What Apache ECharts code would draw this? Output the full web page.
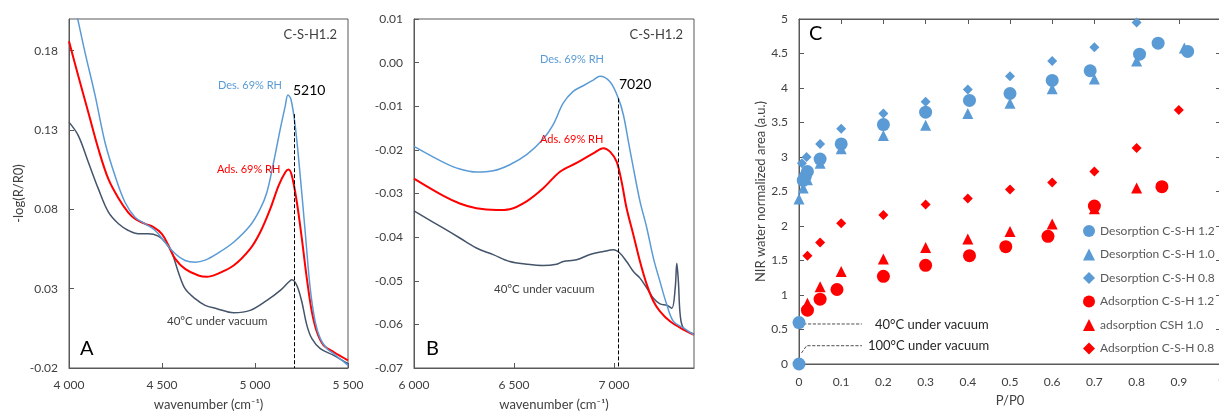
<!DOCTYPE html>
<html><head><meta charset="utf-8">
<script src="https://cdn.jsdelivr.net/npm/echarts@6/dist/echarts.min.js"></script>
<style>html,body{margin:0;padding:0;background:#fff}#c{width:1219px;height:411px}</style>
</head><body><div id="c"></div>
<script>
// ---------- Panel A (4000-5500 cm-1) ----------
const desA = [[4000,0.226],[4047,0.200],[4086,0.179],[4140,0.152],[4194,0.122],[4248,0.101],[4301,0.0845],[4355,0.0751],[4409,0.0709],[4463,0.0667],[4517,0.0593],[4571,0.052],[4624,0.0478],[4678,0.0467],[4732,0.048],[4795,0.052],[4885,0.0593],[4974,0.0698],[5028,0.0803],[5064,0.0908],[5100,0.1097],[5136,0.1307],[5163,0.1454],[5177,0.1521],[5193,0.1496],[5216,0.1328],[5243,0.1013],[5270,0.0656],[5297,0.030],[5324,0.009],[5351,-0.0015],[5387,-0.0078],[5423,-0.011],[5500,-0.0183]];
const adsA = [[4000,0.186],[4050,0.164],[4104,0.141],[4158,0.118],[4212,0.099],[4266,0.087],[4319,0.078],[4360,0.0736],[4409,0.0709],[4454,0.0688],[4499,0.0646],[4535,0.0572],[4571,0.0488],[4624,0.0425],[4696,0.0383],[4741,0.0375],[4795,0.0392],[4885,0.0446],[4974,0.0551],[5028,0.0656],[5082,0.0803],[5127,0.095],[5163,0.1034],[5180,0.1051],[5198,0.1013],[5225,0.0845],[5252,0.0614],[5279,0.0362],[5306,0.0153],[5333,0.0027],[5369,-0.0057],[5423,-0.0099],[5500,-0.0152]];
const vacA = [[4000,0.135],[4050,0.1265],[4104,0.1097],[4158,0.0929],[4212,0.0782],[4266,0.0709],[4319,0.0667],[4373,0.0646],[4426,0.0646],[4480,0.0631],[4517,0.0593],[4552,0.053],[4588,0.0404],[4624,0.030],[4678,0.0237],[4732,0.0195],[4795,0.0174],[4885,0.0148],[4974,0.0163],[5064,0.0226],[5136,0.0289],[5180,0.0341],[5198,0.0356],[5225,0.032],[5252,0.0216],[5279,0.0069],[5306,-0.0015],[5351,-0.0078],[5423,-0.012],[5500,-0.0173]];
const peakA = 5210, peakATop = 0.140;

// ---------- Panel B (6000-7400 cm-1) ----------
const desB = [[6000,-0.0192],[6145,-0.0228],[6229,-0.0244],[6312,-0.0251],[6396,-0.0248],[6479,-0.0234],[6563,-0.0211],[6646,-0.0175],[6696,-0.0142],[6746,-0.0093],[6796,-0.0066],[6846,-0.0053],[6896,-0.004],[6930,-0.0031],[6980,-0.0044],[7022,-0.0082],[7047,-0.012],[7072,-0.0181],[7097,-0.0242],[7130,-0.0318],[7164,-0.0379],[7197,-0.0448],[7230,-0.0502],[7264,-0.0555],[7297,-0.0593],[7347,-0.0608],[7400,-0.0624]];
const adsB = [[6000,-0.0266],[6145,-0.0305],[6229,-0.0323],[6312,-0.0334],[6412,-0.0338],[6479,-0.0336],[6563,-0.0318],[6646,-0.0288],[6730,-0.025],[6813,-0.023],[6896,-0.0208],[6947,-0.0196],[6980,-0.0204],[7013,-0.0227],[7038,-0.0273],[7063,-0.0334],[7097,-0.0395],[7130,-0.0456],[7164,-0.0509],[7197,-0.0547],[7230,-0.057],[7280,-0.0593],[7347,-0.0612],[7400,-0.0624]];
const vacB = [[6000,-0.034],[6145,-0.0379],[6229,-0.0402],[6312,-0.0425],[6396,-0.044],[6479,-0.0456],[6563,-0.0462],[6646,-0.0465],[6713,-0.0462],[6746,-0.0456],[6813,-0.0452],[6880,-0.044],[6947,-0.0433],[6997,-0.0429],[7030,-0.0437],[7063,-0.0456],[7097,-0.0479],[7130,-0.0494],[7164,-0.0517],[7197,-0.054],[7230,-0.0553],[7264,-0.0556],[7289,-0.0563],[7306,-0.0517],[7314,-0.046],[7322,-0.0502],[7331,-0.0578],[7347,-0.0608],[7400,-0.0622]];
const peakB = 7020, peakBTop = -0.0082;

// ---------- Panel C (P/P0) ----------
const desC12 = [[0,0],[0,0.6],[0.01,2.66],[0.015,2.72],[0.02,2.79],[0.05,2.97],[0.1,3.19],[0.2,3.47],[0.3,3.65],[0.404,3.82],[0.5,3.92],[0.6,4.11],[0.69,4.25],[0.807,4.49],[0.851,4.65],[0.921,4.53]];
const desC10 = [[0,2.39],[0.01,2.55],[0.02,2.67],[0.05,2.91],[0.1,3.12],[0.2,3.31],[0.3,3.46],[0.4,3.63],[0.5,3.78],[0.6,3.99],[0.7,4.13],[0.8,4.39],[0.913,4.58]];
const desC08 = [[0.007,2.91],[0.018,3.0],[0.05,3.19],[0.1,3.41],[0.2,3.63],[0.3,3.80],[0.4,3.98],[0.5,4.17],[0.6,4.39],[0.7,4.59],[0.8,4.95]];
const adsC12 = [[0.02,0.78],[0.05,0.94],[0.09,1.08],[0.2,1.27],[0.3,1.43],[0.404,1.57],[0.49,1.70],[0.59,1.85],[0.7,2.29],[0.86,2.57]];
const adsC10 = [[0.02,0.88],[0.05,1.12],[0.1,1.34],[0.2,1.52],[0.3,1.69],[0.4,1.81],[0.5,1.92],[0.6,2.03],[0.7,2.25],[0.8,2.55]];
const adsC08 = [[0.02,1.57],[0.05,1.76],[0.1,2.04],[0.2,2.16],[0.3,2.31],[0.4,2.40],[0.5,2.53],[0.6,2.63],[0.7,2.79],[0.8,3.13],[0.9,3.68]];
const leader40 = [[0.01,0.58],[0.149,0.58]];
const leader100 = [[0.006,0.16],[0.018,0.265],[0.149,0.265]];
const legendNames = ['Desorption C-S-H 1.2','Desorption C-S-H 1.0','Desorption C-S-H 0.8','Adsorption C-S-H 1.2','adsorption CSH 1.0','Adsorption C-S-H 0.8'];

const FONT = 'Lato, "Open Sans", sans-serif';
const BLUE = '#5B9BD5', RED = '#FF0000', DARK = '#44546A', AX = '#595959', TXT = '#404040';

function thou(v){ const s = String(Math.round(v)); return s.length>3 ? s.slice(0,-3)+' '+s.slice(-3) : s; }

function specX(idx, min, max){
  return {gridIndex: idx, type:'value', min, max, interval:500,
    name:'wavenumber (cm⁻¹)', nameLocation:'middle', nameGap:30,
    nameTextStyle:{fontFamily:FONT, fontSize:13, color:TXT},
    axisLine:{show:true, onZero:false, lineStyle:{color:AX}}, axisTick:{show:true, inside:true, length:5, lineStyle:{color:AX}},
    axisLabel:{fontFamily:FONT, fontSize:12, color:TXT, margin:11, formatter:thou, showMaxLabel: max===5500},
    splitLine:{show:false}};
}
function specY(idx, min, max, interval, name){
  return {gridIndex: idx, type:'value', min, max, interval,
    name: name||'', nameLocation:'middle', nameGap:44, nameRotate:90,
    nameTextStyle:{fontFamily:FONT, fontSize:13, color:TXT},
    axisLine:{show:true, onZero:false, lineStyle:{color:AX}}, axisTick:{show:true, inside:true, length:5, lineStyle:{color:AX}},
    axisLabel:{fontFamily:FONT, fontSize:12, color:TXT, margin:11, formatter:v=>v.toFixed(2), showMaxLabel: max===0.01},
    splitLine:{show:false}};
}
function spec(data, color, w, xi){
  return {type:'line', xAxisIndex:xi, yAxisIndex:xi, data, smooth:0.35, symbol:'none', clip:true,
    lineStyle:{color, width:w}, itemStyle:{color}, silent:true, z:3};
}
function dashed(xi, x, top, bottom){
  return {type:'line', xAxisIndex:xi, yAxisIndex:xi, data:[], silent:true,
    markLine:{symbol:'none', silent:true, label:{show:false},
      lineStyle:{type:'dashed', color:'#000', width:1},
      data:[[{coord:[x,top]},{coord:[x,bottom]}]]}};
}
function scat(name, data, symbol, size, color){
  return {type:'scatter', name, data, symbol, symbolSize:size, xAxisIndex:2, yAxisIndex:2, clip:false,
    itemStyle:{color, opacity:1}, z:4};
}
function lead(data){
  return {type:'line', data, xAxisIndex:2, yAxisIndex:2, symbol:'none', silent:true,
    lineStyle:{type:'dashed', color:'#222', width:0.8}, z:2};
}
function txt(x, y, text, size, color, align){
  return {type:'text', x, y, silent:true, z:100,
    style:{text, fill:color, font: size+'px '+FONT, align: align||'left', verticalAlign:'middle'}};
}

const chart = echarts.init(document.getElementById('c'), null, {renderer:'canvas'});
chart.setOption({
  animation:false,
  backgroundColor:'#fff',
  grid:[
    {left:69, top:19, width:279, height:349, show:true, borderColor:AX, borderWidth:1, outerBoundsMode:'none', containLabel:false},
    {left:414, top:19, width:280, height:349, show:true, borderColor:AX, borderWidth:1, outerBoundsMode:'none', containLabel:false},
    {left:799, top:19, width:422, height:345, show:true, borderColor:AX, borderWidth:1, outerBoundsMode:'none', containLabel:false}
  ],
  xAxis:[
    specX(0, 4000, 5500),
    specX(1, 6000, 7400),
    {gridIndex:2, type:'value', min:0, max:1, interval:0.1, name:'P/P0', nameLocation:'middle', nameGap:30,
      nameTextStyle:{fontFamily:FONT, fontSize:13, color:TXT},
      axisLine:{show:true, onZero:false, lineStyle:{color:AX}}, axisTick:{show:false},
      axisLabel:{fontFamily:FONT, fontSize:12, color:TXT, margin:12}, splitLine:{show:false}},
    {gridIndex:2, type:'value', position:'top', min:0, max:1, interval:0.1,
      axisLine:{show:true, onZero:false, lineStyle:{color:AX}}, axisTick:{show:true, inside:true, length:5, lineStyle:{color:AX}},
      axisLabel:{show:false}, splitLine:{show:false}}
  ],
  yAxis:[
    specY(0, -0.02, 0.2, 0.05, '-log(R/R0)'),
    specY(1, -0.07, 0.01, 0.01, ''),
    {gridIndex:2, type:'value', min:0, max:5, interval:0.5, name:'NIR water normalized area (a.u.)',
      nameLocation:'middle', nameGap:31, nameTextStyle:{fontFamily:FONT, fontSize:13, color:TXT},
      axisLine:{show:true, onZero:false, lineStyle:{color:AX}}, axisTick:{show:true, inside:true, length:5, lineStyle:{color:AX}},
      axisLabel:{fontFamily:FONT, fontSize:12, color:TXT, margin:11}, splitLine:{show:false}},
    {gridIndex:2, type:'value', position:'right', min:0, max:5, interval:0.5,
      axisLine:{show:true, onZero:false, lineStyle:{color:AX}}, axisTick:{show:true, inside:true, length:5, lineStyle:{color:AX}},
      axisLabel:{show:false}, splitLine:{show:false}}
  ],
  legend:{
    data: legendNames, orient:'vertical', left:1078, top:220, itemWidth:12, itemHeight:12, itemGap:11.5,
    textStyle:{fontFamily:FONT, fontSize:12, color:AX}, selectedMode:false
  },
  series:[
    spec(vacA, DARK, 1.5, 0), spec(adsA, RED, 2, 0), spec(desA, BLUE, 1.5, 0),
    dashed(0, peakA, peakATop, -0.02),
    spec(vacB, DARK, 1.5, 1), spec(adsB, RED, 2, 1), spec(desB, BLUE, 1.5, 1),
    dashed(1, peakB, peakBTop, -0.07),
    lead(leader40), lead(leader100),
    scat(legendNames[0], desC12, 'circle', 13, BLUE),
    scat(legendNames[1], desC10, 'triangle', 11, BLUE),
    scat(legendNames[2], desC08, 'diamond', 10, BLUE),
    scat(legendNames[3], adsC12, 'circle', 13, RED),
    scat(legendNames[4], adsC10, 'triangle', 11, RED),
    scat(legendNames[5], adsC08, 'diamond', 10, RED)
  ],
  graphic:[
    txt(337, 35, 'C-S-H1.2', 13, TXT, 'right'),
    txt(218, 85, 'Des. 69% RH', 11, BLUE),
    txt(293, 90, '5210', 14, '#000'),
    txt(217, 169, 'Ads. 69% RH', 11, RED),
    txt(167, 321, '40°C under vacuum', 11.5, TXT),
    txt(80, 349, 'A', 20, '#000'),
    txt(683, 35, 'C-S-H1.2', 13, TXT, 'right'),
    txt(540, 59, 'Des. 69% RH', 11, BLUE),
    txt(619, 84, '7020', 14, '#000'),
    txt(540, 139, 'Ads. 69% RH', 11, RED),
    txt(494, 289, '40°C under vacuum', 11.5, TXT),
    txt(426, 349, 'B', 20, '#000'),
    txt(809, 34, 'C', 20, '#000'),
    txt(875, 325, '40°C under vacuum', 13, '#262626'),
    txt(868, 346, '100°C under vacuum', 13, '#262626')
  ]
});
</script></body></html>
